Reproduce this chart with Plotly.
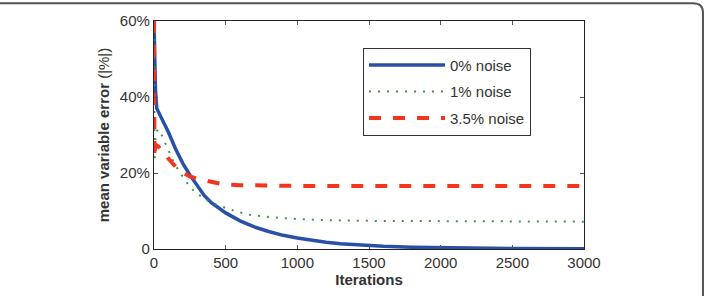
import plotly.graph_objects as go

# Data (iterations, mean variable error in %)
x_0 = [0, 4, 10, 19, 50, 100, 150, 200, 250, 300, 350, 400, 450, 500, 600, 700, 800, 900,
       1000, 1100, 1200, 1300, 1400, 1600, 1800, 2000, 2500, 3000]
y_0 = [60, 50, 42, 37, 34.6, 30.8, 26.4, 22.6, 19.5, 16.6, 14.1, 12.2, 10.8, 9.5, 7.4, 5.8, 4.6, 3.6,
       2.9, 2.3, 1.8, 1.4, 1.1, 0.7, 0.45, 0.3, 0.1, 0.05]

x_1 = [0, 2, 4, 10, 25, 42, 88, 130, 170, 210, 251, 300, 367, 430, 507, 600, 670, 750, 833,
       1000, 1200, 1500, 2000, 3000]
y_1 = [60, 40, 23, 29, 31.5, 31, 27, 23.5, 20.7, 18.4, 16.3, 14.6, 12.9, 11.8, 10.7, 9.6, 9, 8.6, 8.3,
       7.9, 7.6, 7.4, 7.3, 7.2]

x_35 = [0, 3, 10, 30, 60, 112, 150, 205, 250, 300, 344, 400, 484, 600, 800, 1000, 3000]
y_35 = [60, 24, 27.5, 27, 25.5, 23.3, 21.7, 20, 19.1, 18.5, 18.1, 17.5, 17, 16.8, 16.7,
        16.6, 16.6]

series_names = ["0% noise", "1% noise", "3.5% noise"]
x_ticks = [0, 500, 1000, 1500, 2000, 2500, 3000]
y_ticks = [0, 20, 40, 60]
y_tick_labels = ["0", "20%", "40%", "60%"]

FONT = "Liberation Sans, Arial, sans-serif"

fig = go.Figure()
fig.add_trace(go.Scatter(x=x_0, y=y_0, mode="lines", name=series_names[0], legendgroup="a",
                         line=dict(color="#2850a8", width=3.5)))
fig.add_trace(go.Scatter(x=x_1, y=y_1, mode="lines", name=series_names[1], legendgroup="b",
                         line=dict(color="#3f9450", width=2, dash="2px,7px")))
fig.add_trace(go.Scatter(x=x_35, y=y_35, mode="lines", name=series_names[2], legendgroup="c",
                         line=dict(color="#f5341f", width=4, dash="dash")))

axis_common = dict(
    showline=True, linecolor="#222", linewidth=1.2, mirror="ticks",
    ticks="inside", ticklen=4, tickcolor="#555", showgrid=False, zeroline=False,
    tickfont=dict(family=FONT, size=15, color="#333"),
)

fig.update_layout(
    width=707, height=296,
    margin=dict(l=154, r=123, t=21, b=45),
    plot_bgcolor="white", paper_bgcolor="white",
    xaxis=dict(range=[0, 3000], tickvals=x_ticks,
               title=dict(text="<b>Iterations</b>", font=dict(family=FONT, size=15, color="#333"), standoff=2),
               **axis_common),
    yaxis=dict(range=[0, 60], tickvals=y_ticks, ticktext=y_tick_labels,
               title=dict(text="<b>mean variable error</b> (|%|)", font=dict(family=FONT, size=15, color="#333"), standoff=6),
               **axis_common),
    legend=dict(x=0.486, y=0.883, xanchor="left", yanchor="top",
                bgcolor="white", bordercolor="#333", borderwidth=1,
                font=dict(family=FONT, size=15, color="#333"),
                itemwidth=76, traceorder="grouped", tracegroupgap=4),
    showlegend=True,
    shapes=[dict(type="path", xref="paper", yref="paper",
                 path="M -0.5,1.0783 L 1.2535,1.0783 Q 1.2767,1.0783 1.2767,1.0370 L 1.2767,-0.3",
                 line=dict(color="#555", width=2))],
)

fig.write_html("out.html")
